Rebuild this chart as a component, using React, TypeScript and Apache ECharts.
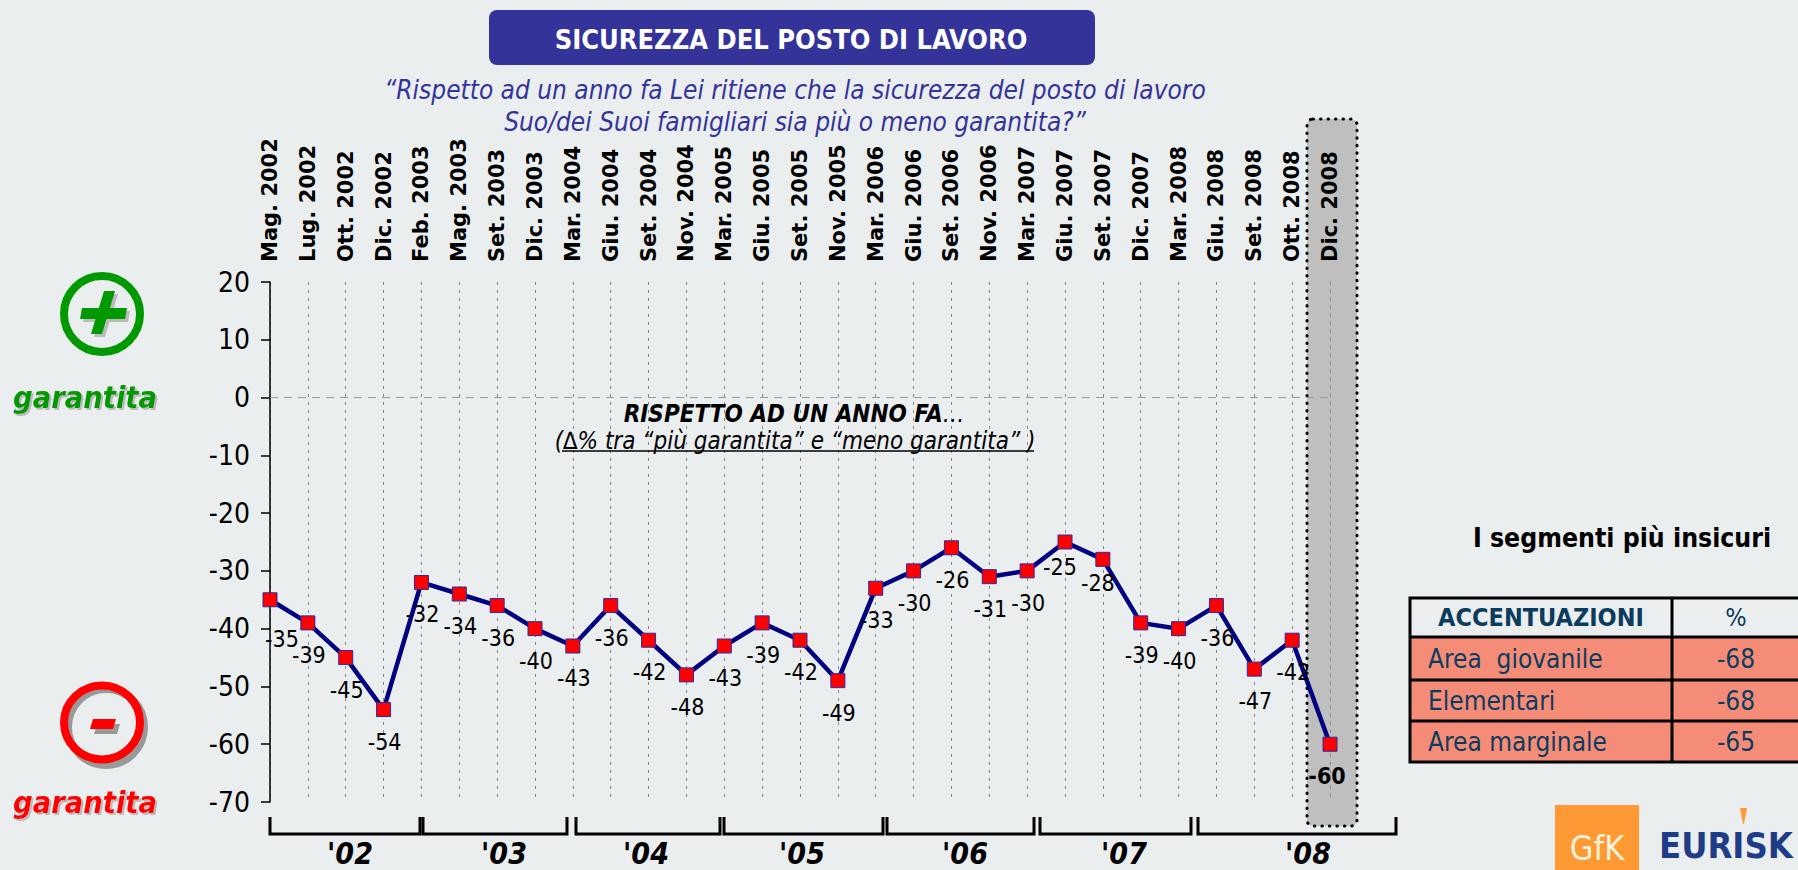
import React, { useEffect, useRef } from "react";
import * as echarts from "echarts";

const categories = ["Mag. 2002","Lug. 2002","Ott. 2002","Dic. 2002","Feb. 2003","Mag. 2003","Set. 2003","Dic. 2003","Mar. 2004","Giu. 2004","Set. 2004","Nov. 2004","Mar. 2005","Giu. 2005","Set. 2005","Nov. 2005","Mar. 2006","Giu. 2006","Set. 2006","Nov. 2006","Mar. 2007","Giu. 2007","Set. 2007","Dic. 2007","Mar. 2008","Giu. 2008","Set. 2008","Ott. 2008","Dic. 2008"];
const values = [-35,-39,-45,-54,-32,-34,-36,-40,-43,-36,-42,-48,-43,-39,-42,-49,-33,-30,-26,-31,-30,-25,-28,-39,-40,-36,-47,-42,-60];
const yearLabels = ["'02","'03","'04","'05","'06","'07","'08"];
const yearCenters = [350,504,646,802,965,1124,1308];
const yearBrackets = [[270,420],[423,567],[576,720],[724,883],[887,1034],[1040,1191],[1198,1396]];
const tableRows = [["Area  giovanile","-68"],["Elementari","-68"],["Area marginale","-65"]];
const tableRowLines = [637,680,721,762];

const FONT = "'DejaVu Sans Condensed','DejaVu Sans',sans-serif";
const BG = "#ebeeef";
const TEAL = "#0b3c5d";
const SHADOW = { textShadowColor: "#bbbbbb", textShadowOffsetX: 2, textShadowOffsetY: 2, textShadowBlur: 0.01 };
const labelOffset = (i: number) => {
  if (i === 0) return [12, 39];
  if (i === 21) return [-5, 25];
  if (i === 22) return [-5, 24];
  if (i === 28) return [-3, 32];
  return [1, 32];
};

function txt(text: string, x: number, y: number, size: number, fill: string, extra: any = {}, align = "center") {
  return { type: "text", x, y, z: 5, style: { text, fontFamily: FONT, fontSize: size, fill, align, verticalAlign: "middle", ...extra } };
}

function graphics() {
  const el: any[] = [];
  // highlight band
  el.push({ type: "rect", z: -10, shape: { x: 1307, y: 119, width: 50, height: 707, r: 6 },
    style: { fill: "#bfbfbf", stroke: "#000", lineWidth: 3, lineDash: [0.5, 7], lineCap: "round" } });
  // title
  el.push({ type: "rect", shape: { x: 489, y: 10, width: 606, height: 55, r: 8 }, style: { fill: "#333399" } });
  el.push(txt("SICUREZZA DEL POSTO DI LAVORO", 791, 39, 27, "#fff", { fontWeight: "bold" }));
  el.push(txt("“Rispetto ad un anno fa Lei ritiene che la sicurezza del posto di lavoro", 795, 90, 26, "#333399", { fontStyle: "italic" }));
  el.push(txt("Suo/dei Suoi famigliari sia più o meno garantita?”", 795, 122, 26, "#333399", { fontStyle: "italic" }));
  // center note
  el.push({ type: "text", x: 794, y: 414, z: 5, style: {
    text: "{b|RISPETTO AD UN ANNO FA}{n|…}", align: "center", verticalAlign: "middle",
    rich: { b: { fontFamily: FONT, fontSize: 24, fontWeight: "bold", fontStyle: "italic", fill: "#000" },
            n: { fontFamily: FONT, fontSize: 24, fontStyle: "italic", fill: "#000" } } } });
  el.push(txt("(∆% tra “più garantita” e “meno garantita” )", 795, 441, 24, "#000", { fontStyle: "italic" }));
  el.push({ type: "line", z: 5, shape: { x1: 562, y1: 451, x2: 1034, y2: 451 }, style: { stroke: "#000", lineWidth: 1.5 } });
  // brackets & years
  yearBrackets.forEach(([a, b], i) => {
    el.push({ type: "polyline", shape: { points: [[a, 817], [a, 834], [b, 834], [b, 817]] }, style: { stroke: "#000", lineWidth: 3, fill: "none" } });
    el.push(txt(yearLabels[i], yearCenters[i], 853, 30, "#000", { fontWeight: "bold", fontStyle: "italic" }));
  });
  // plus icon
  el.push({ type: "ellipse", shape: { cx: 102, cy: 314, rx: 38, ry: 38 }, style: { fill: "none", stroke: "#009900", lineWidth: 8 } });
  const plusH = (dx: number, dy: number) => [[82 + dx, 308 + dy], [127 + dx, 308 + dy], [125 + dx, 319 + dy], [80 + dx, 319 + dy]];
  const plusV = (dx: number, dy: number) => [[104 + dx, 291 + dy], [115 + dx, 291 + dy], [102 + dx, 334 + dy], [91 + dx, 334 + dy]];
  el.push({ type: "polygon", shape: { points: plusH(3, 3) }, style: { fill: "#bbbbbb" } });
  el.push({ type: "polygon", shape: { points: plusV(3, 3) }, style: { fill: "#bbbbbb" } });
  el.push({ type: "polygon", shape: { points: plusH(0, 0) }, style: { fill: "#009900" } });
  el.push({ type: "polygon", shape: { points: plusV(0, 0) }, style: { fill: "#009900" } });
  el.push(txt("garantita", 85, 397, 30.5, "#009900", { fontWeight: "bold", fontStyle: "italic", ...SHADOW }));
  // minus icon
  el.push({ type: "ellipse", shape: { cx: 106, cy: 727, rx: 38, ry: 38 }, style: { fill: "none", stroke: "#999", lineWidth: 8 } });
  el.push({ type: "ellipse", shape: { cx: 102, cy: 722.5, rx: 38, ry: 37 }, style: { fill: "none", stroke: "#ff0000", lineWidth: 8 } });
  const minus = (dx: number, dy: number) => [[93 + dx, 719 + dy], [116 + dx, 719 + dy], [113 + dx, 729 + dy], [90 + dx, 729 + dy]];
  el.push({ type: "polygon", shape: { points: minus(4, 5) }, style: { fill: "#999" } });
  el.push({ type: "polygon", shape: { points: minus(0, 0) }, style: { fill: "#ff0000" } });
  el.push(txt("garantita", 85, 802, 30.5, "#ff0000", { fontWeight: "bold", fontStyle: "italic", ...SHADOW }));
  // table
  el.push(txt("I segmenti più insicuri", 1622, 537, 26.4, "#000", { fontWeight: "bold" }));
  el.push({ type: "rect", shape: { x: 1410, y: 598, width: 400, height: 39 }, style: { fill: BG } });
  el.push({ type: "rect", shape: { x: 1410, y: 637, width: 400, height: 125 }, style: { fill: "#f58c78" } });
  el.push({ type: "rect", shape: { x: 1410, y: 598, width: 400, height: 164 }, style: { fill: "none", stroke: "#000", lineWidth: 3 } });
  tableRowLines.slice(0, 3).forEach((y) => el.push({ type: "line", shape: { x1: 1410, y1: y, x2: 1810, y2: y }, style: { stroke: "#000", lineWidth: 3 } }));
  el.push({ type: "line", shape: { x1: 1672, y1: 598, x2: 1672, y2: 762 }, style: { stroke: "#000", lineWidth: 3 } });
  el.push(txt("ACCENTUAZIONI", 1541, 617, 25, TEAL, { fontWeight: "bold" }));
  el.push(txt("%", 1736, 617, 25, TEAL));
  tableRows.forEach(([a, b], i) => {
    const y = (tableRowLines[i] + tableRowLines[i + 1]) / 2;
    el.push(txt(a, 1428, y, 26, TEAL, {}, "left"));
    el.push(txt(b, 1736, y, 26, TEAL));
  });
  // logo
  el.push({ type: "rect", shape: { x: 1555, y: 805, width: 84, height: 65 }, style: { fill: "#ff9933" } });
  el.push(txt("GfK", 1597, 848, 34, "#fff3dc", { lineHeight: 40 }));
  el.push(txt("EURISK", 1659, 845, 36, "#1f3c88", { fontWeight: "bold" }, "left"));
  el.push({ type: "polygon", shape: { points: [[1740, 808], [1747, 808], [1744, 824], [1743, 824]] }, style: { fill: "#ff9933" } });
  return el;
}

export default function App() {
  const ref = useRef<HTMLDivElement>(null);
  useEffect(() => {
    document.body.style.margin = "0";
    const chart = echarts.init(ref.current!, null, { renderer: "svg" });
    chart.setOption({
      animation: false,
      backgroundColor: BG,
      grid: { left: 270, top: 282, width: 1060, height: 520, containLabel: false },
      xAxis: {
        type: "category", position: "top", data: categories, boundaryGap: false,
        axisLine: { show: false, onZero: false }, axisTick: { show: false },
        axisLabel: { interval: 0, rotate: -90, margin: 20, color: "#000", fontFamily: "'DejaVu Sans',sans-serif", fontWeight: "bold", fontSize: 21 },
        splitLine: { show: true, interval: 0, lineStyle: { color: "#888", width: 1, type: [3, 5] } },
      },
      yAxis: {
        type: "value", min: -70, max: 20, interval: 10,
        axisLine: { show: true, onZero: false, lineStyle: { color: "#000", width: 1.5 } },
        axisTick: { show: true, length: 9, lineStyle: { color: "#000", width: 1.5 } },
        axisLabel: { margin: 20, color: "#000", fontFamily: FONT, fontSize: 28 },
        splitLine: { show: false },
      },
      graphic: { elements: graphics() },
      series: [{
        type: "line", clip: false, smooth: false, symbol: "rect", symbolSize: 14,
        lineStyle: { color: "#000080", width: 4.5 },
        itemStyle: { color: "#ff0000", borderColor: "#2a2aa0", borderWidth: 1 },
        label: { show: true, position: "inside", color: "#000", fontFamily: FONT, fontSize: 23 },
        markLine: { silent: true, symbol: "none", label: { show: false },
          lineStyle: { color: "#999", width: 1, type: [8, 6] }, data: [[{ xAxis: 0, yAxis: 0 }, { xAxis: 27.85, yAxis: 0 }]] },
        data: values.map((v, i) => ({ value: v, label: { offset: labelOffset(i), fontWeight: i === values.length - 1 ? "bold" : "normal" } })),
      }],
    });
    return () => chart.dispose();
  }, []);
  return <div ref={ref} style={{ position: "absolute", left: 0, top: 0, width: 1798, height: 870, overflow: "hidden" }} />;
}
